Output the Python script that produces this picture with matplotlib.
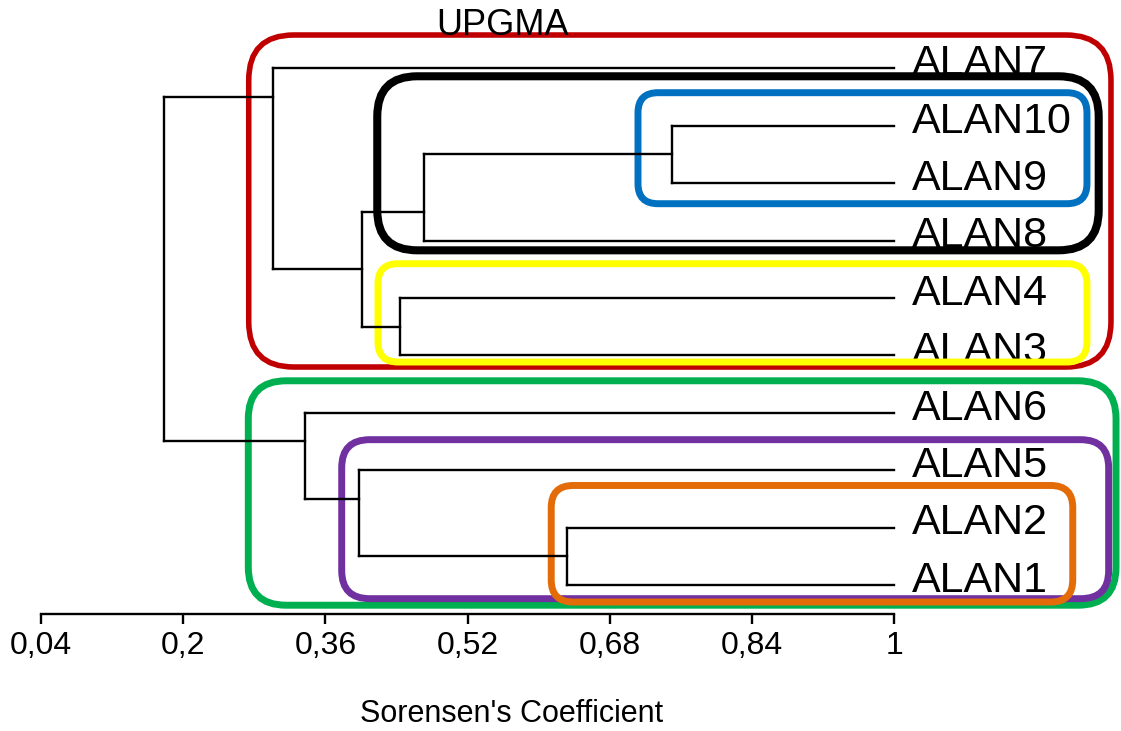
import matplotlib
matplotlib.use("Agg")
import matplotlib.pyplot as plt
from matplotlib.patches import FancyBboxPatch

plt.rcParams['font.family'] = ['Liberation Sans', 'DejaVu Sans']

# leaves, top to bottom
leaves = ['ALAN7', 'ALAN10', 'ALAN9', 'ALAN8', 'ALAN4', 'ALAN3',
          'ALAN6', 'ALAN5', 'ALAN2', 'ALAN1']

# UPGMA merges: child a, child b (leaf name or merge index), similarity
merge_a = ['ALAN10', 0, 'ALAN4', 1, 'ALAN7', 'ALAN2', 'ALAN5', 'ALAN6', 4]
merge_b = ['ALAN9', 'ALAN8', 'ALAN3', 2, 3, 'ALAN1', 5, 6, 7]
merge_sim = [0.750, 0.471, 0.444, 0.401, 0.301, 0.632, 0.398, 0.337, 0.178]

tick_vals = [0.04, 0.2, 0.36, 0.52, 0.68, 0.84, 1.0]
tick_labels = ['0,04', '0,2', '0,36', '0,52', '0,68', '0,84', '1']

# highlight boxes: x0, x1 (coefficient), y0, y1 (leaf rows), corner px, colour, lw
boxes = [
    (0.2737, 1.2437, -0.580, 5.204, 45, '#C00000', 4.0),
    (0.4191, 1.2167, 3.404, 5.117, 20, '#FFFF00', 5.0),
    (0.4183, 1.2299, 0.139, 3.171, 40, '#000000', 5.8),
    (0.7116, 1.2167, 0.425, 2.359, 20, '#0070C0', 5.0),
    (0.2732, 1.2494, 5.444, 9.354, 38, '#00B050', 5.0),
    (0.3783, 1.2411, 6.470, 9.240, 28, '#7030A0', 5.0),
    (0.6140, 1.2007, 7.268, 9.298, 22, '#E36C09', 5.0),
]

W, H = 1121, 731
fig = plt.figure(figsize=(W / 100, H / 100), dpi=100)
ax_bottom_px = 614
ax = fig.add_axes([0, (H - ax_bottom_px) / H, 1, ax_bottom_px / H])

x_ppu = 888.9
x0_px = 41
y_ppu = 57.4
y0_px = 68.3
ax.set_xlim(0.04 - x0_px / x_ppu, 0.04 + (W - x0_px) / x_ppu)
ax.set_ylim((ax_bottom_px - y0_px) / y_ppu, -y0_px / y_ppu)

# node info: x, stem y, first leaf, last leaf
nodes = {}
for i, name in enumerate(leaves):
    nodes[name] = (1.0, float(i), i, i)

lw = 1.7
for k in range(len(merge_sim)):
    a = nodes[merge_a[k]]
    b = nodes[merge_b[k]]
    x = merge_sim[k]
    ax.plot([a[0], x], [a[1], a[1]], color='black', lw=lw, zorder=5)
    ax.plot([b[0], x], [b[1], b[1]], color='black', lw=lw, zorder=5)
    ax.plot([x, x], [a[1], b[1]], color='black', lw=lw, zorder=5)
    ystem = (a[3] + b[2]) / 2
    nodes[k] = (x, ystem, a[2], b[3])

for i, name in enumerate(leaves):
    ax.annotate(name, (1.0, i), xytext=(12.5, -5), textcoords='offset points',
                ha='left', va='baseline', fontsize=31, zorder=2)

aspect = x_ppu / y_ppu
for bx0, bx1, by0, by1, rad, col, blw in boxes:
    p = FancyBboxPatch((bx0, by0), bx1 - bx0, by1 - by0,
                       boxstyle='round,pad=0,rounding_size=%f' % (rad / x_ppu),
                       mutation_aspect=aspect, fill=False, edgecolor=col,
                       lw=blw, zorder=3, clip_on=False)
    ax.add_patch(p)

for s in ['top', 'right', 'left']:
    ax.spines[s].set_visible(False)
ax.spines['bottom'].set_bounds(0.04, 1.0)
ax.spines['bottom'].set_linewidth(1.7)
ax.set_yticks([])
ax.set_xticks(tick_vals)
ax.set_xticklabels(tick_labels)
ax.tick_params(axis='x', direction='out', length=7.2, width=1.7, pad=5,
               labelsize=23)
ax.patch.set_visible(False)

fig.text(503 / W, 1 - 35 / H, 'UPGMA', ha='center', va='baseline',
         fontsize=26, zorder=1)
fig.text(511.7 / W, 1 - 714 / H, "Sorensen's Coefficient", ha='center',
         va='center', fontsize=22)

fig.savefig('out.png', dpi=100)
